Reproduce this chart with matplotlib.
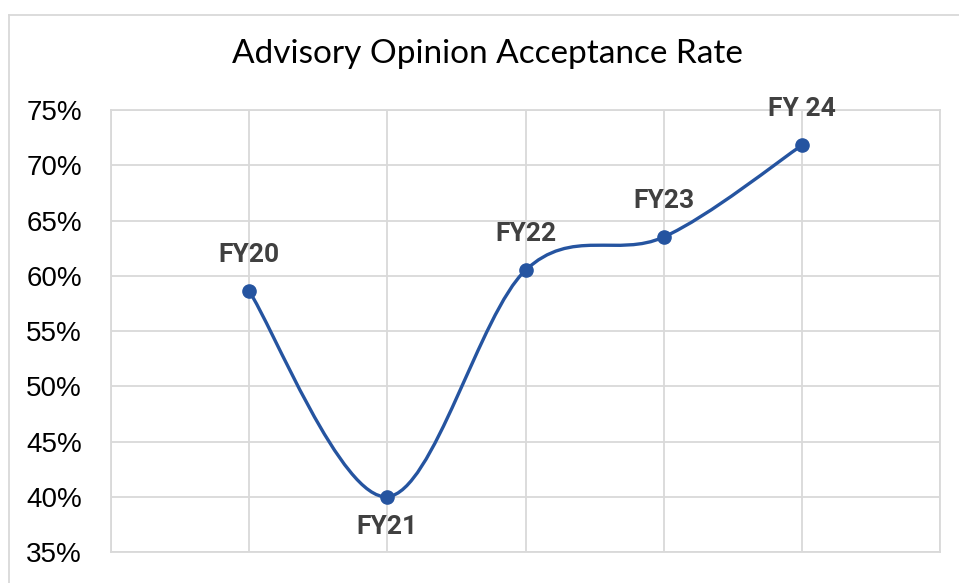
import numpy as np
import matplotlib.pyplot as plt
from matplotlib.path import Path
from matplotlib.patches import PathPatch
from matplotlib.ticker import PercentFormatter
from matplotlib.lines import Line2D

labels = ['FY20', 'FY21', 'FY22', 'FY23', 'FY 24']
rates = [0.586, 0.400, 0.605, 0.635, 0.718]
label_below = [False, True, False, False, False]

line_color = '#2554a0'
grid_color = '#d9d9d9'
label_color = '#404040'


def smooth_path(xs, ys):
    # Excel-like smoothed line: Catmull-Rom segments as cubic Bezier curves
    pts = np.column_stack([xs, ys])
    ext = np.vstack([pts[0], pts, pts[-1]])
    verts = [tuple(pts[0])]
    codes = [Path.MOVETO]
    for i in range(len(pts) - 1):
        p0, p1, p2, p3 = ext[i], ext[i + 1], ext[i + 2], ext[i + 3]
        c1 = p1 + (p2 - p0) / 6
        c2 = p2 - (p3 - p1) / 6
        verts += [tuple(c1), tuple(c2), tuple(p2)]
        codes += [Path.CURVE4] * 3
    return Path(verts, codes)


fig = plt.figure(figsize=(9.59, 5.83), dpi=100)
ax = fig.add_axes([111 / 959, 1 - 552 / 583, (940 - 111) / 959, (552 - 110) / 583])

x = np.arange(1, len(rates) + 1)
ax.add_patch(PathPatch(smooth_path(x, rates), facecolor='none',
                       edgecolor=line_color, lw=2.4, capstyle='round', zorder=3))
ax.plot(x, rates, 'o', color=line_color, ms=9.5, zorder=4)

for xi, yi, lab, below in zip(x, rates, labels, label_below):
    off = -22 if below else 26
    ax.annotate(lab, (xi, yi), xytext=(0, off), textcoords='offset points',
                ha='center', va='center', fontsize=19, fontweight='bold',
                family='Roboto', color=label_color)

ax.set_xlim(0, 6)
ax.set_ylim(0.35, 0.75)
ax.set_xticks(range(0, 7))
ax.set_yticks(np.arange(0.35, 0.751, 0.05))
ax.yaxis.set_major_formatter(PercentFormatter(1.0, decimals=0))
ax.tick_params(axis='x', length=0, labelbottom=False)
ax.tick_params(axis='y', length=0, pad=21, labelsize=20, labelcolor='#000000')
for t in ax.get_yticklabels():
    t.set_family('Liberation Sans')
ax.grid(True, color=grid_color, lw=1.3)
for sp in ax.spines.values():
    sp.set_color(grid_color)
    sp.set_linewidth(1.3)

fig.text(487 / 959, 1 - 54 / 583, 'Advisory Opinion Acceptance Rate',
         ha='center', va='center', fontsize=24, family='Lato', color='#000000')

# chart frame
fig.add_artist(Line2D([9 / 959, 9 / 959], [0, 1 - 15 / 583], color=grid_color,
                      lw=1.3, transform=fig.transFigure))
fig.add_artist(Line2D([9 / 959, 1], [1 - 15 / 583, 1 - 15 / 583], color=grid_color,
                      lw=1.3, transform=fig.transFigure))

fig.savefig('out.png', dpi=100)
